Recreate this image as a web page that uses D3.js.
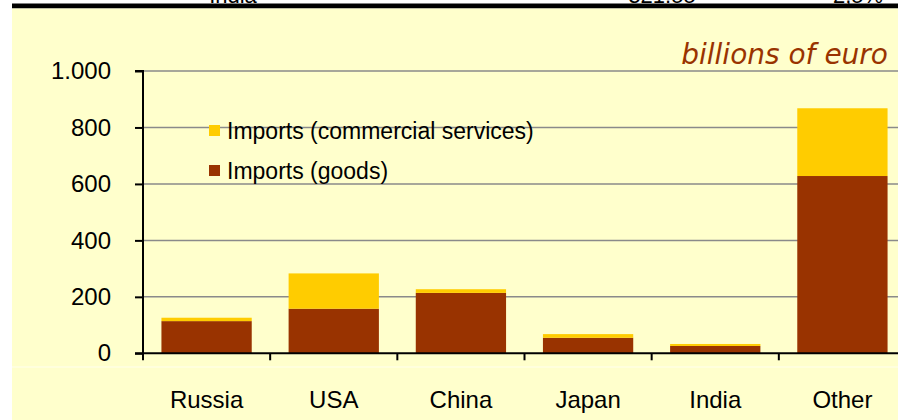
<!DOCTYPE html>
<html>
<head>
<meta charset="utf-8">
<script src="https://cdn.jsdelivr.net/npm/d3@7/dist/d3.min.js"></script>
<style>
  html, body { margin: 0; padding: 0; background: #ffffff; }
  svg { display: block; }
</style>
</head>
<body>
<svg id="chart" width="898" height="420"></svg>
<script>
const categories = ["Russia", "USA", "China", "Japan", "India", "Other"];
const goods = [114, 158, 214, 55, 26, 628];
const services = [12, 125, 13, 13, 7, 240];
const yTicks = [0, 200, 400, 600, 800, 1000];
const seriesNames = ["Imports (goods)", "Imports (commercial services)"];
const seriesColors = ["#993300", "#FFCC00"];
const unitLabel = "billions of euro";
const headerTexts = ["India", "321.55", "2,5%"];

const svg = d3.select("#chart");
const W = 898, H = 420;
const font = "'Liberation Sans', Arial, sans-serif";

// header remnants (cut-off table above, as in the reference)
svg.append("rect").attr("x", 0).attr("y", 0).attr("width", W).attr("height", H).attr("fill", "#ffffff");
const headerX = [233, 662, 858];
svg.selectAll("text.hdr").data(headerTexts).join("text")
  .attr("class", "hdr")
  .attr("x", (d, i) => headerX[i]).attr("y", 3)
  .attr("text-anchor", "middle")
  .attr("font-family", font).attr("font-size", 22).attr("fill", "#000")
  .text(d => d);

svg.append("rect").attr("x", 12).attr("y", 3.5).attr("width", W - 12).attr("height", 5).attr("fill", "#000");
svg.append("rect").attr("x", 12).attr("y", 8.5).attr("width", W - 12).attr("height", H - 8.5).attr("fill", "#FFFFCC");
svg.append("line").attr("x1", 12).attr("x2", W).attr("y1", 367).attr("y2", 367)
  .attr("stroke", "#FFFFEE").attr("stroke-width", 1.2);

const x = d3.scaleBand().domain(categories).range([143, 906]).paddingInner(0.29).paddingOuter(0.145);
const xb = d3.scaleBand().domain(categories).range([143, 906]).padding(0);
const y = d3.scaleLinear().domain([0, 1000]).range([353.3, 71]);

// gridlines
svg.append("g").selectAll("line").data(yTicks.filter(d => d > 0)).join("line")
  .attr("x1", 143).attr("x2", W)
  .attr("y1", d => y(d)).attr("y2", d => y(d))
  .attr("stroke", "#8a8a8a").attr("stroke-width", 1.5);

// bars
const table = categories.map((c, i) => ({ cat: c, goods: goods[i], services: services[i] }));
const stack = d3.stack().keys(["goods", "services"])(table);
svg.append("g").selectAll("g").data(stack).join("g")
  .attr("fill", (d, i) => seriesColors[i])
  .selectAll("rect").data(d => d).join("rect")
  .attr("x", d => x(d.data.cat))
  .attr("width", x.bandwidth())
  .attr("y", d => y(d[1]))
  .attr("height", d => y(d[0]) - y(d[1]));

// y axis
const yAxis = svg.append("g").attr("transform", "translate(143,0)")
  .call(d3.axisLeft(y).tickValues(yTicks).tickSize(8).tickPadding(24)
    .tickFormat(d => d3.format(",")(d).replace(",", ".")));
yAxis.select(".domain").attr("stroke", "#000").attr("stroke-width", 2)
  .attr("d", `M-8,${y(1000)}H0V${y(0) + 7}`);
yAxis.selectAll(".tick line").attr("stroke", "#000").attr("stroke-width", 2);
yAxis.selectAll(".tick text").attr("font-family", font).attr("font-size", 24).attr("fill", "#000");

// x axis
const xAxis = svg.append("g").attr("transform", `translate(0,${y(0)})`)
  .call(d3.axisBottom(xb).tickSize(0).tickPadding(0).tickFormat(""));
xAxis.select(".domain").attr("stroke", "#000").attr("stroke-width", 2)
  .attr("d", `M135,0H906`);
xAxis.selectAll(".tick").remove();
const boundaries = categories.slice(1).map(c => xb(c));
xAxis.selectAll("line.sep").data(boundaries).join("line").attr("class", "sep")
  .attr("x1", d => d).attr("x2", d => d).attr("y1", 0).attr("y2", 7)
  .attr("stroke", "#000").attr("stroke-width", 2);

svg.append("g").selectAll("text").data(categories).join("text")
  .attr("x", d => xb(d) + xb.bandwidth() / 2).attr("y", 407.7)
  .attr("text-anchor", "middle")
  .attr("font-family", font).attr("font-size", 24).attr("fill", "#000")
  .text(d => d);

// unit label
svg.append("text").attr("x", 888).attr("y", 64).attr("text-anchor", "end")
  .attr("font-family", "'DejaVu Sans', Verdana, sans-serif").attr("font-style", "italic")
  .attr("font-size", 28).attr("fill", "#993300").text(unitLabel);

// legend
const legendItems = [
  { name: seriesNames[1], color: seriesColors[1] },
  { name: seriesNames[0], color: seriesColors[0] }
];
const lg = svg.append("g").selectAll("g").data(legendItems).join("g")
  .attr("transform", (d, i) => `translate(209,${125 + i * 40})`);
lg.append("rect").attr("width", 11).attr("height", 11).attr("fill", d => d.color);
lg.append("text").attr("x", 18).attr("y", 14.3)
  .attr("font-family", font).attr("font-size", 23).attr("fill", "#000")
  .text(d => d.name);
</script>
</body>
</html>
